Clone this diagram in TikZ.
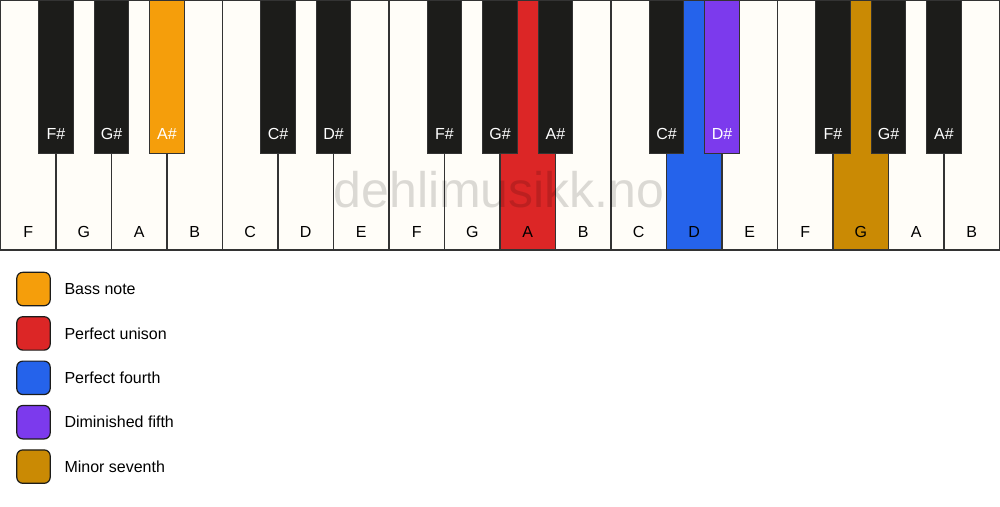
\documentclass[tikz,border=0pt]{standalone}
\usepackage{fontspec}
\setmainfont{Liberation Sans}
\usepackage{xcolor}
\usepackage{tikz}
\usetikzlibrary{positioning}

\definecolor{ivory}{HTML}{FFFDF8}
\definecolor{ebony}{HTML}{1C1C1A}
\definecolor{keyline}{HTML}{333333}
\definecolor{bassnote}{HTML}{F59E0B}
\definecolor{unison}{HTML}{DC2626}
\definecolor{fourth}{HTML}{2563EB}
\definecolor{dimfifth}{HTML}{7C3AED}
\definecolor{minseventh}{HTML}{CA8A04}

\begin{document}
\begin{tikzpicture}[x=1pt,y=-1pt,node distance=55.5pt,
    every node/.style={font=\fontsize{16}{19}\selectfont}]
    \tikzstyle{whitekey}=[draw=keyline,line width=1.3pt,fill=ivory,outer sep=0pt,
      inner sep=0pt,minimum width=55.5pt,minimum height=250pt,
      text height=237pt,text depth=13pt]
    \tikzstyle{blackkey}=[draw=keyline,line width=1.3pt,fill=ebony,text=white,
      anchor=north,inner sep=0pt,minimum width=34.5pt,minimum height=153pt,
      text height=139pt,text depth=14pt]
    \tikzstyle{swatch}=[draw=ebony,line width=1.2pt,rounded corners=6pt,
      minimum size=33.4pt,inner sep=0pt]
    \tikzstyle{legendtext}=[inner sep=0pt,text height=11.5pt,text depth=0pt]

    \useasboundingbox[fill=white] (0,0) rectangle (1000,506);

    % white keys
    \node[whitekey]                (f1) at (28.25,125)  {F};
    \node[whitekey]                (g1) [right of=f1]   {G};
    \node[whitekey]                (a1) [right of=g1]   {A};
    \node[whitekey]                (b1) [right of=a1]   {B};
    \node[whitekey]                (c2) [right of=b1]   {C};
    \node[whitekey]                (d2) [right of=c2]   {D};
    \node[whitekey]                (e2) [right of=d2]   {E};
    \node[whitekey]                (f2) [right of=e2]   {F};
    \node[whitekey]                (g2) [right of=f2]   {G};
    \node[whitekey,fill=unison]    (a2) [right of=g2]   {A};
    \node[whitekey]                (b2) [right of=a2]   {B};
    \node[whitekey]                (c3) [right of=b2]   {C};
    \node[whitekey,fill=fourth]    (d3) [right of=c3]   {D};
    \node[whitekey]                (e3) [right of=d3]   {E};
    \node[whitekey]                (f3) [right of=e3]   {F};
    \node[whitekey,fill=minseventh] (g3) [right of=f3]  {G};
    \node[whitekey]                (a3) [right of=g3]   {A};
    \node[whitekey]                (b3) [right of=a3]   {B};

    % watermark
    \node[anchor=base,text=black,text opacity=0.14,
      font=\fontsize{50}{58}\selectfont] (mark) at (499,207) {dehlimusikk.no};

    % black keys
    \node[blackkey]               (fs1) at (f1.north east) {F\#};
    \node[blackkey]               (gs1) at (g1.north east) {G\#};
    \node[blackkey,fill=bassnote] (as1) at (a1.north east) {A\#};
    \node[blackkey]               (cs2) at (c2.north east) {C\#};
    \node[blackkey]               (ds2) at (d2.north east) {D\#};
    \node[blackkey]               (fs2) at (f2.north east) {F\#};
    \node[blackkey]               (gs2) at (g2.north east) {G\#};
    \node[blackkey]               (as2) at (a2.north east) {A\#};
    \node[blackkey]               (cs3) at (c3.north east) {C\#};
    \node[blackkey,fill=dimfifth] (ds3) at (d3.north east) {D\#};
    \node[blackkey]               (fs3) at (f3.north east) {F\#};
    \node[blackkey]               (gs3) at (g3.north east) {G\#};
    \node[blackkey]               (as3) at (a3.north east) {A\#};

    % legend
    \node[swatch,fill=bassnote]   (sw1) at (33.5,289) {};
    \node[swatch,fill=unison,node distance=44.4pt]     (sw2) [below of=sw1] {};
    \node[swatch,fill=fourth,node distance=44.4pt]     (sw3) [below of=sw2] {};
    \node[swatch,fill=dimfifth,node distance=44.4pt]   (sw4) [below of=sw3] {};
    \node[swatch,fill=minseventh,node distance=44.4pt] (sw5) [below of=sw4] {};

    \node[legendtext] (lb1) [right=13.5pt of sw1] {Bass note};
    \node[legendtext] (lb2) [right=13.5pt of sw2] {Perfect unison};
    \node[legendtext] (lb3) [right=13.5pt of sw3] {Perfect fourth};
    \node[legendtext] (lb4) [right=13.5pt of sw4] {Diminished fifth};
    \node[legendtext] (lb5) [right=13.5pt of sw5] {Minor seventh};
  \end{tikzpicture}
\end{document}
